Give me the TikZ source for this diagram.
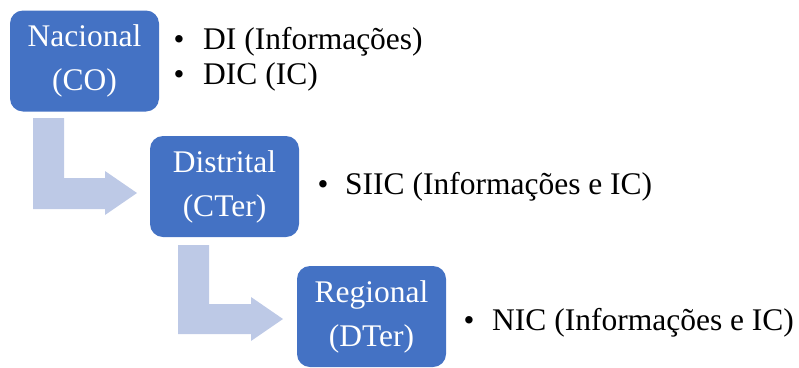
\documentclass[tikz,border=0pt]{standalone}
\usepackage{fontspec}
\setmainfont{Liberation Serif}
\definecolor{boxblue}{HTML}{4472C4}
\definecolor{arrowblue}{HTML}{BDC9E6}
\begin{document}
\begin{tikzpicture}[x=1pt,y=-1pt,
  levelbox/.style={draw=none, fill=boxblue, rounded corners=13pt, text=white,
    minimum width=149pt, minimum height=101pt, align=center, inner sep=0pt,
    font=\fontsize{31.5}{44}\selectfont},
  bulletdot/.style={anchor=base, inner sep=0pt, font=\fontsize{31}{36}\selectfont},
  itemtext/.style={anchor=base west, inner sep=0pt, font=\fontsize{31.5}{36}\selectfont},
  bentarrow/.style={fill=arrowblue, draw=none}]
\useasboundingbox (0,0) rectangle (799,367);
% boxes
\node[levelbox] (nac) at (84.5,61) {Nacional\\(CO)};
\node[levelbox] (dis) at (224.5,186.5) {Distrital\\(CTer)};
\node[levelbox] (reg) at (371.5,316.5) {Regional\\(DTer)};
% bent arrows
\fill[bentarrow] (33,118) -- (64,118) -- (64,178) -- (105,178) -- (105,171)
  -- (137,193) -- (105,215) -- (105,209) -- (33,209) -- cycle;
\fill[bentarrow] (178,245) -- (209,245) -- (209,304) -- (251,304) -- (251,297)
  -- (283,319) -- (251,341) -- (251,334) -- (178,334) -- cycle;
% bullet lists
\node[bulletdot] (b1) at (179,49) {•};
\node[itemtext] (t1) at (203,49) {DI (Informações)};
\node[bulletdot] (b2) at (179,84) {•};
\node[itemtext] (t2) at (203,84) {DIC (IC)};
\node[bulletdot] (b3) at (323,194) {•};
\node[itemtext] (t3) at (345,194) {SIIC (Informações e IC)};
\node[bulletdot] (b4) at (469,330) {•};
\node[itemtext] (t4) at (492,330) {NIC (Informações e IC)};
\end{tikzpicture}
\end{document}
